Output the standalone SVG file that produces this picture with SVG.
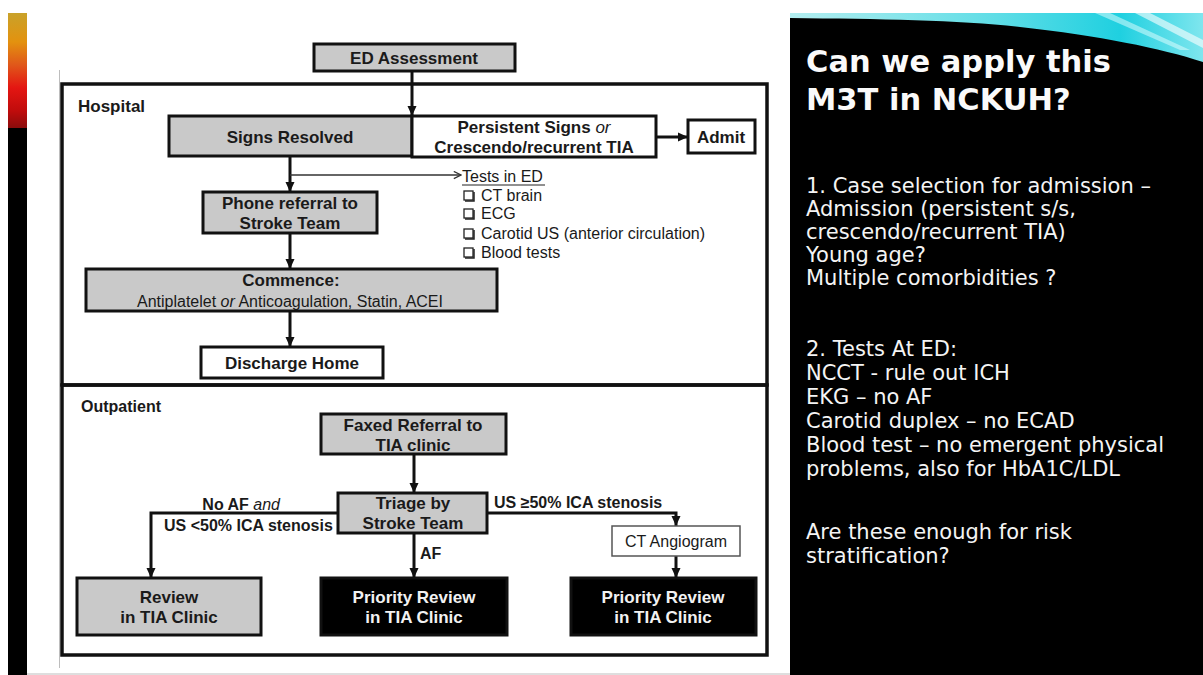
<svg xmlns="http://www.w3.org/2000/svg" width="1203" height="675" viewBox="0 0 1203 675">
<defs>
<linearGradient id="strip" x1="0" y1="13" x2="0" y2="128" gradientUnits="userSpaceOnUse">
<stop offset="0" stop-color="#c9a22a"/>
<stop offset="0.25" stop-color="#e3920f"/>
<stop offset="0.45" stop-color="#e0581a"/>
<stop offset="0.65" stop-color="#e41612"/>
<stop offset="0.85" stop-color="#c00c0c"/>
<stop offset="1" stop-color="#8a0c0c"/>
</linearGradient>
<linearGradient id="swoosh" x1="790" y1="0" x2="1203" y2="0" gradientUnits="userSpaceOnUse">
<stop offset="0" stop-color="#b4eef0"/>
<stop offset="0.5" stop-color="#5fdde6"/>
<stop offset="0.8" stop-color="#1fd0e0"/>
<stop offset="1" stop-color="#7fe6ee"/>
</linearGradient>
<marker id="ah" viewBox="0 0 10 10" refX="10" refY="5" markerWidth="10" markerHeight="10" markerUnits="userSpaceOnUse" orient="auto">
<path d="M0,0.5 L10,5 L0,9.5 z" fill="#111"/>
</marker>
<marker id="oh" viewBox="0 0 10 10" refX="9" refY="5" markerWidth="9" markerHeight="9" markerUnits="userSpaceOnUse" orient="auto">
<path d="M1,1 L9,5 L1,9" fill="none" stroke="#333" stroke-width="1.4"/>
</marker>
</defs>
<style>
.box{stroke:#111;stroke-width:3}
.gray{fill:#c9c9c9}
.white{fill:#fff}
.blk{fill:#000}
.b{font-family:"Liberation Sans",Arial,sans-serif;font-weight:bold;font-size:17px;fill:#1a1a1a}
.r{font-family:"Liberation Sans",Arial,sans-serif;font-size:16px;fill:#1a1a1a}
.lab{font-family:"Liberation Sans",Arial,sans-serif;font-weight:bold;font-size:16px;fill:#1a1a1a}
.wt{font-family:"Liberation Sans",Arial,sans-serif;font-weight:bold;font-size:17px;fill:#f2f2f2}
.c{text-anchor:middle}
.conn{fill:none;stroke:#111;stroke-width:3}
.title{font-family:"DejaVu Sans",sans-serif;font-weight:bold;font-size:30.5px;fill:#fafafa}
.body{font-family:"DejaVu Sans",sans-serif;font-size:21px;fill:#f4f4f4}
</style>
<rect x="0" y="0" width="1203" height="675" fill="#fff"/>
<!-- left strip -->
<rect x="8" y="13" width="19" height="662" fill="#000"/>
<rect x="8" y="13" width="19" height="115" fill="url(#strip)"/>
<line x1="59.5" y1="70" x2="59.5" y2="668" stroke="#bdbdbd" stroke-width="1"/>
<line x1="27" y1="674" x2="790" y2="674" stroke="#bdbdbd" stroke-width="1"/>
<!-- right panel -->
<path d="M790,13 L1203,13 L1203,675 L790,675 z" fill="url(#swoosh)"/>
<path d="M1150,13 L1203,40 L1203,48 L1135,13 z" fill="#ffffff" opacity="0.6"/>
<path d="M1110,13 L1190,50 L1180,50 L1095,13 z" fill="#e8ffff" opacity="0.5"/>
<path d="M790,18 C880,19 960,20 1020,27 C1100,36 1160,48 1203,62 L1203,675 L790,675 z" fill="#000"/>
<text class="title" x="806" y="72">Can we apply this</text>
<text class="title" x="806" y="110">M3T in NCKUH?</text>
<text class="body" x="806" y="193">1. Case selection for admission –</text>
<text class="body" x="806" y="216">Admission (persistent s/s,</text>
<text class="body" x="806" y="239">crescendo/recurrent TIA)</text>
<text class="body" x="806" y="262">Young age?</text>
<text class="body" x="806" y="285">Multiple comorbidities ?</text>
<text class="body" x="806" y="356">2. Tests At ED:</text>
<text class="body" x="806" y="380">NCCT  - rule out ICH</text>
<text class="body" x="806" y="404">EKG – no AF</text>
<text class="body" x="806" y="428">Carotid duplex – no ECAD</text>
<text class="body" x="806" y="452">Blood test – no emergent physical</text>
<text class="body" x="806" y="476">problems, also for HbA1C/LDL</text>
<text class="body" x="806" y="539">Are these enough for risk</text>
<text class="body" x="806" y="563">stratification?</text>
<!-- section frames -->
<g id="hospital">
<rect x="62" y="84" width="705" height="301" fill="none" stroke="#111" stroke-width="3.5"/>
<text class="b" x="78" y="112">Hospital</text>
</g>
<g id="outpatient">
<rect x="62" y="385" width="705" height="270" fill="none" stroke="#111" stroke-width="3.5"/>
<text class="lab" x="81" y="412">Outpatient</text>
</g>
<!-- connectors -->
<g id="connectors">
<line class="conn" x1="412" y1="71" x2="412" y2="116" marker-end="url(#ah)"/>
<line class="conn" x1="656" y1="137" x2="688" y2="137" marker-end="url(#ah)"/>
<line class="conn" x1="290" y1="156" x2="290" y2="192" marker-end="url(#ah)"/>
<line x1="290" y1="175" x2="461" y2="175" fill="none" stroke="#333" stroke-width="1.5" marker-end="url(#oh)"/>
<line class="conn" x1="290" y1="233" x2="290" y2="269" marker-end="url(#ah)"/>
<line class="conn" x1="290" y1="311" x2="290" y2="347" marker-end="url(#ah)"/>
<line class="conn" x1="414" y1="454" x2="414" y2="493" marker-end="url(#ah)"/>
<polyline class="conn" points="338,513 151,513 151,578" marker-end="url(#ah)"/>
<line class="conn" x1="414" y1="533" x2="414" y2="578" marker-end="url(#ah)"/>
<polyline class="conn" points="487,513 676,513 676,526" marker-end="url(#ah)"/>
<line class="conn" x1="676" y1="556" x2="676" y2="578" marker-end="url(#ah)"/>
<text class="lab" x="280" y="510" text-anchor="end">No AF <tspan font-weight="normal" font-style="italic">and</tspan></text>
<text class="lab" x="164" y="531">US &lt;50% ICA stenosis</text>
<text class="lab" x="420" y="559">AF</text>
<text class="lab" x="494" y="508">US ≥50% ICA stenosis</text>
</g>
<g id="ed-assessment">
<rect class="box gray" x="314" y="44" width="201" height="27"/>
<text class="b c" x="414" y="64">ED Assessment</text>
</g>
<g id="signs-resolved">
<rect class="box gray" x="169" y="116" width="243" height="40"/>
<text class="b c" x="290" y="143">Signs Resolved</text>
</g>
<g id="persistent-signs">
<rect class="box white" x="412" y="116" width="244" height="41"/>
<text class="b c" x="534" y="133">Persistent Signs <tspan font-weight="normal" font-style="italic">or</tspan></text>
<text class="b c" x="534" y="153">Crescendo/recurrent TIA</text>
</g>
<g id="admit">
<rect class="box white" x="688" y="120" width="67" height="33"/>
<text class="b c" x="721" y="143">Admit</text>
</g>
<g id="tests-in-ed">
<text class="r" x="462" y="182">Tests in ED</text>
<line x1="462" y1="185" x2="545" y2="185" stroke="#222" stroke-width="1.2"/>
<g fill="#fff" stroke="#222" stroke-width="1.3">
<rect x="464" y="191" width="9" height="9"/>
<rect x="464" y="209" width="9" height="9"/>
<rect x="464" y="229" width="9" height="9"/>
<rect x="464" y="248" width="9" height="9"/>
</g>
<g stroke="#222" stroke-width="1.5" fill="none">
<polyline points="474,192 474,201 465,201"/>
<polyline points="474,210 474,219 465,219"/>
<polyline points="474,230 474,239 465,239"/>
<polyline points="474,249 474,258 465,258"/>
</g>
<text class="r" x="481" y="201">CT brain</text>
<text class="r" x="481" y="219">ECG</text>
<text class="r" x="481" y="239">Carotid US (anterior circulation)</text>
<text class="r" x="481" y="258">Blood tests</text>
</g>
<g id="phone-referral">
<rect class="box gray" x="203" y="192" width="174" height="41"/>
<text class="b c" x="290" y="209">Phone referral to</text>
<text class="b c" x="290" y="229">Stroke Team</text>
</g>
<g id="commence">
<rect class="box gray" x="86" y="269" width="411" height="42"/>
<text class="b c" x="291" y="286">Commence:</text>
<text class="r c" x="290" y="307" font-size="17.5">Antiplatelet <tspan font-style="italic">or</tspan> Anticoagulation, Statin, ACEI</text>
</g>
<g id="discharge-home">
<rect class="box white" x="201" y="347" width="182" height="31"/>
<text class="b c" x="292" y="369">Discharge Home</text>
</g>
<g id="faxed-referral">
<rect class="box gray" x="321" y="414" width="185" height="40"/>
<text class="b c" x="413" y="431">Faxed Referral to</text>
<text class="b c" x="413" y="451">TIA clinic</text>
</g>
<g id="triage">
<rect class="box gray" x="338" y="493" width="149" height="40"/>
<text class="b c" x="413" y="509">Triage by</text>
<text class="b c" x="413" y="529">Stroke Team</text>
</g>
<g id="review">
<rect class="box gray" x="77" y="578" width="184" height="57"/>
<text class="b c" x="169" y="603">Review</text>
<text class="b c" x="169" y="623">in TIA Clinic</text>
</g>
<g id="priority-review-1">
<rect class="box blk" x="321" y="578" width="186" height="57"/>
<text class="wt c" x="414" y="603">Priority Review</text>
<text class="wt c" x="414" y="623">in TIA Clinic</text>
</g>
<g id="ct-angiogram">
<rect x="612" y="526" width="128" height="30" fill="#fff" stroke="#555" stroke-width="1.5"/>
<text class="r c" x="676" y="547">CT Angiogram</text>
</g>
<g id="priority-review-2">
<rect class="box blk" x="571" y="578" width="185" height="57"/>
<text class="wt c" x="663" y="603">Priority Review</text>
<text class="wt c" x="663" y="623">in TIA Clinic</text>
</g>
</svg>
